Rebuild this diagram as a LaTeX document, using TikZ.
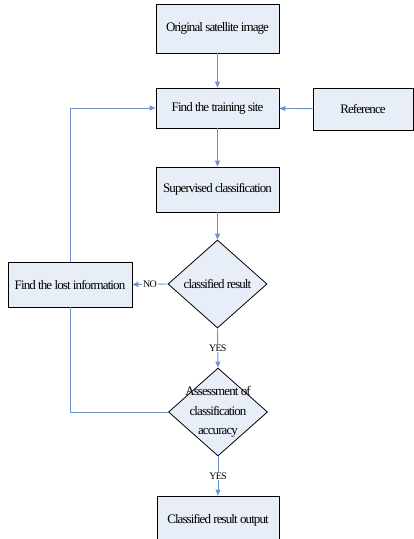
\documentclass[tikz,border=0pt]{standalone}
\usepackage{fontspec}
\setmainfont[LetterSpace=-7]{Liberation Serif}
\usetikzlibrary{shapes.geometric,arrows.meta}
\definecolor{boxfill}{HTML}{E8EEF8}
\definecolor{flowline}{HTML}{6A93CF}
\begin{document}
\begin{tikzpicture}[x=1pt, y=-1pt,
		stepbox/.style={draw=black, line width=0.8pt, fill=boxfill, minimum height=#1, inner sep=0pt, font=\fontsize{13}{15}\selectfont},
		stepbox/.default=45pt,
		decision/.style={diamond, draw=black, line width=0.8pt, fill=boxfill, minimum width=99pt, minimum height=88pt, inner sep=0pt},
		flow/.style={draw=flowline, line width=0.9pt, -{Triangle[length=6pt, width=5pt]}},
		answer/.style={fill=white, inner sep=1pt, font=\fontsize{10}{12}\selectfont}]
		\useasboundingbox (0, 0) rectangle (414, 539);
		\node[stepbox=49pt, minimum width=123pt] (orig) at (217.5, 28.5) {Original satellite image};
		\node[stepbox=40pt, minimum width=123pt] (train) at (217.5, 108) {Find the training site};
		\node[stepbox=42pt, minimum width=100pt] (ref) at (363, 109) {Reference};
		\node[stepbox, minimum width=123pt] (sup) at (217.5, 189.5) {Supervised classification};
		\node[decision, font=\fontsize{13}{15}\selectfont] (cls) at (217.5, 284) {classified result};
		\node[stepbox, minimum width=124pt] (lost) at (70, 284.5) {Find the lost information};
		\node[decision] (acc) at (218, 412) {};
		\node[align=center, inner sep=0pt, font=\fontsize{13}{19.5}\selectfont] (acctext) at (acc.center) {Assessment of\\classification\\accuracy};
		\node[stepbox=49pt, minimum width=122pt] (out) at (218, 520.5) {Classified result output};
		\draw[flow] (orig) -- (train);
		\draw[flow] (ref) -- (train);
		\draw[flow] (train) -- (sup);
		\draw[flow] (sup) -- (cls);
		\draw[flow] (cls.west) -- node[answer] {NO} (lost.east);
		\draw[flow] (cls.south) -- node[answer] {YES} (acc.north);
		\draw[flow] (acc.south) -- node[answer] {YES} (out.north);
		\draw[flow] (lost.north) |- (train.west);
		\draw[draw=flowline, line width=0.9pt] (acc.west) -| (lost.south);
	\end{tikzpicture}
\end{document}
